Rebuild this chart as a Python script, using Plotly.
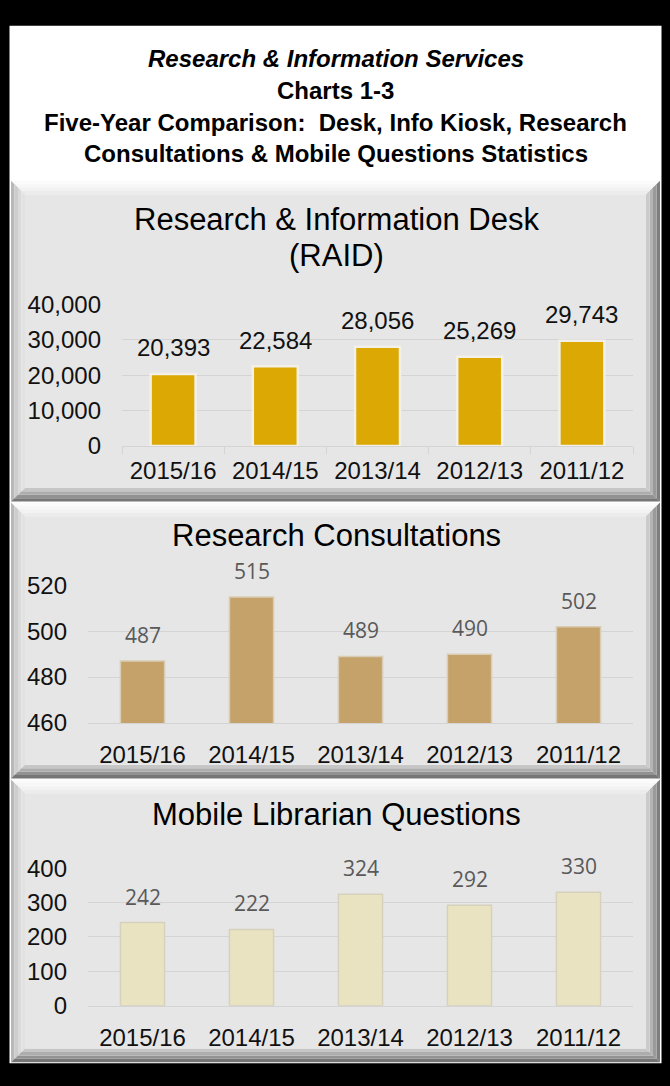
import plotly.graph_objects as go

W, H = 670, 1086

# ---------------- data ----------------
categories = ["2015/16", "2014/15", "2013/14", "2012/13", "2011/12"]
raid_values = [20393, 22584, 28056, 25269, 29743]
consult_values = [487, 515, 489, 490, 502]
mobile_values = [242, 222, 324, 292, 330]

raid_ticks = [0, 10000, 20000, 30000, 40000]
consult_ticks = [460, 480, 500, 520]
mobile_ticks = [0, 100, 200, 300, 400]

header_lines = [
    "<i>Research & Information Services</i>",
    "Charts 1-3",
    "Five-Year Comparison:  Desk, Info Kiosk, Research",
    "Consultations & Mobile Questions Statistics",
]
panel_titles = [
    ["Research & Information Desk", "(RAID)"],
    ["Research Consultations"],
    ["Mobile Librarian Questions"],
]


def px(x):
    return x / W


def py(y):
    return 1 - y / H


ARIAL = "Liberation Sans, Arial, sans-serif"
CALIBRI = "Open Sans, Lato, sans-serif"

fig = go.Figure()
shapes = []
annotations = []


def rect(x0, y0, x1, y1, color):
    shapes.append(dict(type="rect", xref="paper", yref="paper",
                       x0=px(x0), x1=px(x1), y0=py(y1), y1=py(y0),
                       fillcolor=color, line=dict(width=0), layer="below"))


def poly(pts, color):
    d = "M " + " L ".join(f"{px(a):.5f},{py(b):.5f}" for a, b in pts) + " Z"
    shapes.append(dict(type="path", xref="paper", yref="paper", path=d,
                       fillcolor=color, line=dict(width=0), layer="below"))


def bevel_panel(x0, y0, x1, y1, w=14):
    bands = 4
    top_c = ["#fbfbfb", "#f7f7f7", "#f2f2f2", "#ececec"]
    left_c = ["#b8b8b8", "#cdcdcd", "#dadada", "#e2e2e2"]
    right_c = ["#7e7e7e", "#9a9a9a", "#b4b4b4", "#cbcbcb"]
    bot_c = ["#767676", "#929292", "#adadad", "#c6c6c6"]
    for i in range(bands):
        a = w * i / bands
        b = w * (i + 1) / bands
        poly([(x0 + a, y0 + a), (x1 - a, y0 + a), (x1 - b, y0 + b), (x0 + b, y0 + b)], top_c[i])
        poly([(x0 + a, y0 + a), (x0 + b, y0 + b), (x0 + b, y1 - b), (x0 + a, y1 - a)], left_c[i])
        poly([(x1 - a, y0 + a), (x1 - a, y1 - a), (x1 - b, y1 - b), (x1 - b, y0 + b)], right_c[i])
        poly([(x0 + a, y1 - a), (x1 - a, y1 - a), (x1 - b, y1 - b), (x0 + b, y1 - b)], bot_c[i])
    rect(x0 + w, y0 + w, x1 - w, y1 - w, "#e6e6e6")


# white sheet inside black frame
rect(9.5, 12, 661.5, 1076, "#ffffff")

panels = [(11, 171, 660, 500), (11, 501, 660, 784), (11, 785, 660, 1075)]
for p in panels:
    bevel_panel(*p)

# header text
header_y = [46, 78.5, 111, 143.5]
for line, yy in zip(header_lines, header_y):
    annotations.append(dict(xref="paper", yref="paper", x=px(335.5), y=py(yy),
                            text=f"<b>{line}</b>", showarrow=False,
                            xanchor="center", yanchor="middle",
                            font=dict(family=ARIAL, size=24, color="#000000")))

# panel titles
title_y = [[211, 248], [534.5], [821]]
for lines, ys in zip(panel_titles, title_y):
    for line, yy in zip(lines, ys):
        annotations.append(dict(xref="paper", yref="paper", x=px(336), y=py(yy),
                                text=line, showarrow=False,
                                xanchor="center", yanchor="middle",
                                font=dict(family=ARIAL, size=31, color="#000000")))

# subplot geometry (pixel positions of plot areas)
specs = [
    dict(values=raid_values, ticks=raid_ticks, rng=[0, 40000], xd=(122, 633), yd=(298, 443),
         color="#dba804", line="#f2f0e8", lw=2.5, width=0.44, fmt=",",
         label_font=dict(family=ARIAL, size=24, color="#111111")),
    dict(values=consult_values, ticks=consult_ticks, rng=[460, 520], xd=(88, 633), yd=(586, 727),
         color="#c6a26b", line="#d9ccb4", lw=1.5, width=0.405, fmt="d",
         label_font=dict(family=CALIBRI, size=21, color="#595959")),
    dict(values=mobile_values, ticks=mobile_ticks, rng=[0, 400], xd=(88, 633), yd=(876, 1017),
         color="#e9e3c1", line="#d6d1bc", lw=1.5, width=0.405, fmt="d",
         label_font=dict(family=CALIBRI, size=21, color="#595959")),
]

layout_axes = {}
for i, s in enumerate(specs, start=1):
    xa = "x" if i == 1 else f"x{i}"
    ya = "y" if i == 1 else f"y{i}"
    fig.add_trace(go.Bar(
        x=categories, y=s["values"], xaxis=xa, yaxis=ya,
        width=s["width"],
        marker=dict(color=s["color"], line=dict(color=s["line"], width=s["lw"])),
        hoverinfo="skip", showlegend=False,
    ))
    for c, v in zip(categories, s["values"]):
        annotations.append(dict(x=c, y=v, xref=xa, yref=ya,
                                text=format(v, ","), showarrow=False,
                                xanchor="center", yanchor="middle", yshift=26,
                                font=s["label_font"]))
    xkey = "xaxis" if i == 1 else f"xaxis{i}"
    ykey = "yaxis" if i == 1 else f"yaxis{i}"
    xaxis = dict(domain=[px(s["xd"][0]), px(s["xd"][1])], anchor=ya,
                 type="category", showgrid=False, zeroline=False,
                 showline=True, linecolor="#d4d4d4", linewidth=1,
                 tickfont=dict(family=ARIAL, size=24, color="#111111"),
                 fixedrange=True)
    if i == 1:
        xaxis.update(ticks="outside", tickson="boundaries", ticklen=7,
                     tickcolor="#d4d4d4", tickwidth=1, ticklabelstandoff=3)
    else:
        xaxis.update(ticks="", ticklabelstandoff=10)
    yaxis = dict(domain=[py(s["yd"][1]), py(s["yd"][0])], anchor=xa,
                 range=s["rng"], tickvals=s["ticks"], tickformat=s["fmt"],
                 showgrid=True, gridcolor="#d4d4d4", gridwidth=1,
                 zeroline=False, showline=False, ticks="",
                 ticklabelstandoff=20,
                 tickfont=dict(family=ARIAL, size=24, color="#111111"),
                 fixedrange=True)
    layout_axes[xkey] = xaxis
    layout_axes[ykey] = yaxis

fig.update_layout(
    width=W, height=H,
    margin=dict(l=0, r=0, t=0, b=0),
    paper_bgcolor="#000000",
    plot_bgcolor="rgba(0,0,0,0)",
    shapes=shapes,
    annotations=annotations,
    showlegend=False,
    bargap=0.5,
    hovermode=False,
    **layout_axes,
)

page_fix = ("document.body.style.margin='0';document.body.style.padding='0';"
            "document.body.style.background='#000';document.body.style.overflow='hidden';")
fig.write_html("out.html", post_script=page_fix,
               config={"displayModeBar": False, "staticPlot": True})
